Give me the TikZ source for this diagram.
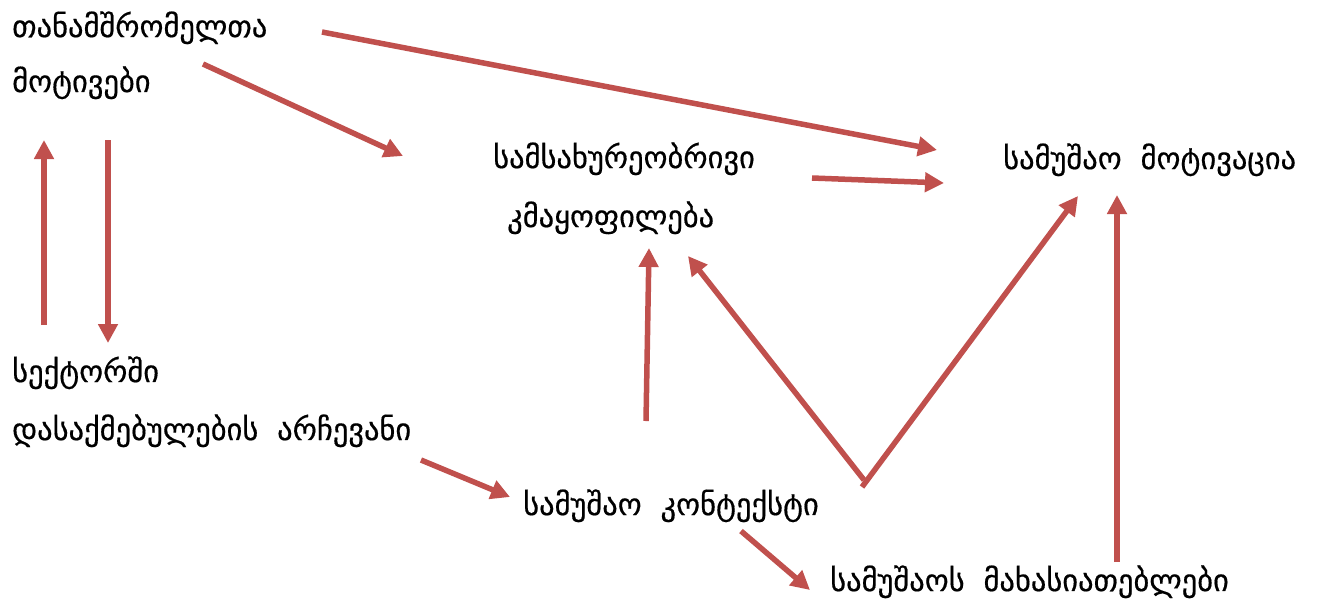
\documentclass[tikz,border=0pt]{standalone}
\usepackage{fontspec}
\setmainfont{DejaVu Sans}
\newfontfamily\lblfont[FakeBold=0.5]{DejaVu Sans}
\usetikzlibrary{arrows.meta}
\definecolor{arrowred}{RGB}{192,80,77}
% wide gap between words
\newcommand\wgap{\hspace{0.62em}}
\begin{document}
\begin{tikzpicture}[x=1pt,y=-1pt,
  lbl/.style={anchor=base west,inner sep=0pt,font=\lblfont\fontsize{30.5}{30.5}\selectfont},
  link/.style={draw=arrowred,line width=5.5pt,-{Triangle[length=19pt,width=19pt]}}]
\useasboundingbox (0,0) rectangle (1327,603);
% labels
\node[lbl] (emp1) at (12,37) {თანამშრომელთა};
\node[lbl] (emp2) at (12,92) {მოტივები};
\node[lbl] (sat1) at (493,168) {სამსახურეობრივი};
\node[lbl] (sat2) at (507,227) {კმაყოფილება};
\node[lbl] (mot)  at (1003,169) {სამუშაო\wgap მოტივაცია};
\node[lbl] (sec1) at (12,382) {სექტორში};
\node[lbl] (sec2) at (12,440) {დასაქმებულების\wgap არჩევანი};
\node[lbl] (ctx)  at (523,515) {სამუშაო\wgap კონტექსტი};
\node[lbl] (job)  at (830,591) {სამუშაოს\wgap მახასიათებლები};
% connector ends
\coordinate (a1s) at (322,32);   \coordinate (a1e) at (937,150);
\coordinate (a2s) at (203,64);   \coordinate (a2e) at (403,156);
\coordinate (a3s) at (44,325);   \coordinate (a3e) at (44,140);
\coordinate (a4s) at (108,140);  \coordinate (a4e) at (108,343);
\coordinate (a5s) at (812,178);  \coordinate (a5e) at (944,183);
\coordinate (a6s) at (421,460);  \coordinate (a6e) at (510,497);
\coordinate (a7s) at (646,421);  \coordinate (a7e) at (649,248);
\coordinate (a8s) at (864,480);  \coordinate (a8e) at (688,256);
\coordinate (a9s) at (862,487);  \coordinate (a9e) at (1078,196);
\coordinate (a10s) at (741,531); \coordinate (a10e) at (810,590);
\coordinate (a11s) at (1117,562);\coordinate (a11e) at (1117,195);
\draw[link] (a1s) -- (a1e);
\draw[link] (a2s) -- (a2e);
\draw[link] (a3s) -- (a3e);
\draw[link] (a4s) -- (a4e);
\draw[link] (a5s) -- (a5e);
\draw[link] (a6s) -- (a6e);
\draw[link] (a7s) -- (a7e);
\draw[link] (a8s) -- (a8e);
\draw[link] (a9s) -- (a9e);
\draw[link] (a10s) -- (a10e);
\draw[link] (a11s) -- (a11e);
\end{tikzpicture}
\end{document}
